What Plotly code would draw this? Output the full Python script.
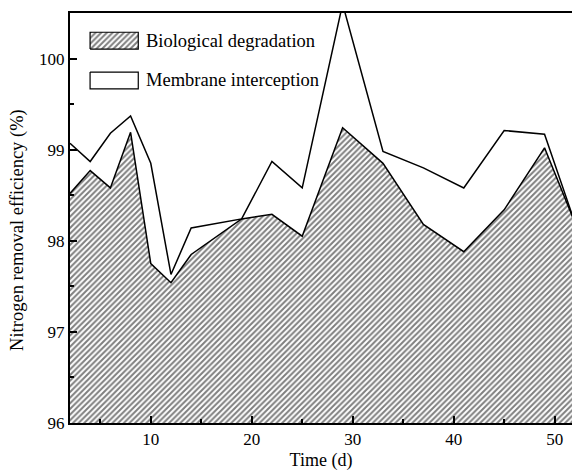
import plotly.graph_objects as go

# ---- data ----
days = [2, 4, 6, 8, 10, 12, 14, 19, 22, 25, 29, 33, 37, 41, 45, 49, 52]
biological = [98.52, 98.77, 98.58, 99.19, 97.75, 97.54, 97.85, 98.24, 98.29,
              98.05, 99.24, 98.85, 98.18, 97.88, 98.34, 99.02, 98.20]
membrane_total = [99.07, 98.87, 99.18, 99.37, 98.85, 97.63, 98.14, 98.24, 98.87,
                  98.58, 100.6, 98.98, 98.80, 98.58, 99.21, 99.17, 98.20]
legend_names = ["Biological degradation", "Membrane interception"]
x_title = "Time (d)"
y_title = "Nitrogen removal efficiency (%)"

FONT = "Liberation Serif, Times New Roman, serif"
W, H = 572, 471
ML, MR, MT, MB = 70, 0, 13, 48
HATCH = dict(shape="/", fgcolor="black", bgcolor="white", size=4, solidity=0.5)

fig = go.Figure()

fig.add_trace(go.Scatter(
    x=days, y=biological, mode="lines", name=legend_names[0],
    line=dict(color="black", width=1.5),
    fill="tozeroy", fillcolor="white", fillpattern=HATCH,
    showlegend=False, hoverinfo="skip"))

fig.add_trace(go.Scatter(
    x=days, y=membrane_total, mode="lines", name=legend_names[1],
    line=dict(color="black", width=1.5),
    fill="tonexty", fillcolor="white",
    showlegend=False, hoverinfo="skip"))

# ---- legend drawn on an overlay axis (0..1 of plot area) ----
sw_x0, sw_x1 = 0.040, 0.136
sw1 = (0.912, 0.953)
sw2 = (0.856, 0.815)
fig.add_trace(go.Scatter(
    x=[sw_x0, sw_x1, sw_x1, sw_x0, sw_x0], y=[sw1[0], sw1[0], sw1[1], sw1[1], sw1[0]],
    xaxis="x2", yaxis="y2", mode="lines", fill="toself", fillcolor="white",
    fillpattern=HATCH, line=dict(color="black", width=1.2),
    showlegend=False, hoverinfo="skip"))
fig.add_trace(go.Scatter(
    x=[sw_x0, sw_x1, sw_x1, sw_x0, sw_x0], y=[sw2[0], sw2[0], sw2[1], sw2[1], sw2[0]],
    xaxis="x2", yaxis="y2", mode="lines", fill="toself", fillcolor="white",
    line=dict(color="black", width=1.2), showlegend=False, hoverinfo="skip"))

for name, yc in zip(legend_names, [sum(sw1) / 2, sum(sw2) / 2]):
    fig.add_annotation(x=sw_x1 + 0.012, y=yc, xref="x2", yref="y2", text=name,
                       showarrow=False, xanchor="left", yanchor="middle",
                       font=dict(family=FONT, size=18.5, color="black"))

# y-axis title as annotation (slightly below plot centre, as in reference)
fig.add_annotation(x=-0.1036, y=0.471, xref="paper", yref="paper", text=y_title,
                   textangle=-90, showarrow=False, xanchor="center", yanchor="middle",
                   font=dict(family=FONT, size=18.5, color="black"))

fig.update_layout(
    width=W, height=H,
    margin=dict(l=ML, r=MR, t=MT, b=MB, pad=0),
    paper_bgcolor="white", plot_bgcolor="white",
    font=dict(family=FONT, color="black", size=17),
    showlegend=False,
    xaxis=dict(range=[2, 51.72], tick0=0, dtick=10, ticks="inside", ticklen=7,
               tickwidth=1.5, tickcolor="black", showline=True, linecolor="black",
               linewidth=2, mirror=True, showgrid=False, zeroline=False,
               tickfont=dict(family=FONT, size=17),
               minor=dict(dtick=5, ticks="inside", ticklen=4, tickwidth=1.5, tickcolor="black"),
               title=dict(text=x_title, font=dict(family=FONT, size=18), standoff=5)),
    yaxis=dict(range=[96, 100.5], tick0=96, dtick=1, ticks="inside", ticklen=7,
               tickwidth=1.5, tickcolor="black", showline=True, linecolor="black",
               linewidth=2, showgrid=False, zeroline=False,
               tickfont=dict(family=FONT, size=17),
               minor=dict(dtick=0.5, ticks="inside", ticklen=4, tickwidth=1.5, tickcolor="black")),
    xaxis2=dict(range=[0, 1], overlaying="x", anchor="y2", visible=False, fixedrange=True),
    yaxis2=dict(range=[0, 1], overlaying="y", anchor="x2", visible=False, fixedrange=True),
)

fig.write_html("out.html")
